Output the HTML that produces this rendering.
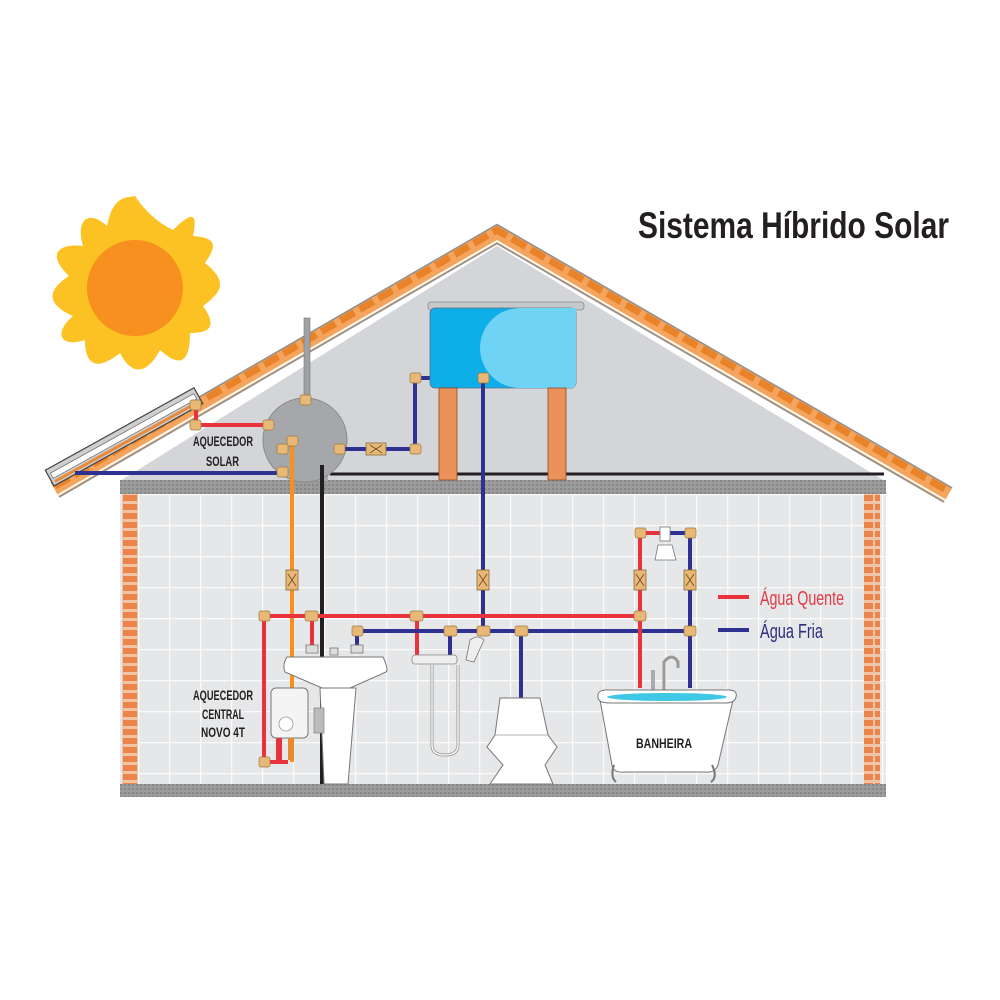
<!DOCTYPE html>
<html><head><meta charset="utf-8"><style>
html,body{margin:0;padding:0;background:#fff;}
svg{display:block;}
text{font-family:"Liberation Sans Narrow","Liberation Sans",sans-serif;}
</style></head><body>
<svg width="1000" height="1000" viewBox="0 0 1000 1000" xmlns="http://www.w3.org/2000/svg">
<defs>
<pattern id="tile" width="31" height="31" patternUnits="userSpaceOnUse" x="138" y="494">
<rect width="31" height="31" fill="#e6e7e9"/>
<path d="M0 0.5H31M0.5 0V31" stroke="#fafafa" stroke-width="1.5"/>
</pattern>
<pattern id="brick" width="16" height="9" patternUnits="userSpaceOnUse" x="122" y="494">
<rect width="16" height="9" fill="#f1c4a5"/>
<rect x="1" y="1" width="14" height="6" fill="#e9844a"/>
</pattern>
<pattern id="conc" width="4" height="4" patternUnits="userSpaceOnUse">
<rect width="4" height="4" fill="#9b9b9b"/>
<rect width="2" height="2" fill="#878787"/>
</pattern>
</defs>

<!-- title -->
<text x="638" y="238" font-size="37" font-weight="bold" fill="#231f20" textLength="311" lengthAdjust="spacingAndGlyphs">Sistema Híbrido Solar</text>

<!-- sun -->
<g transform="translate(135,288)">
<g fill="#fcc223">
<path d="M0,-92 C15,-70 30,-62 38,-58 C60,-80 62,-72 58,-52 C85,-50 80,-40 70,-25 C95,-5 85,5 68,18 C85,42 70,45 55,45 C55,75 45,80 25,62 C10,90 -5,85 -15,65 C-40,85 -50,75 -50,52 C-75,60 -82,45 -62,28 C-92,15 -85,0 -66,-12 C-90,-35 -75,-45 -52,-42 C-60,-70 -45,-78 -28,-62 C-22,-92 -10,-90 0,-92Z"/>
</g>
<circle r="48" fill="#f7901e"/>
</g>

<!-- gable -->
<polygon points="120,481 497,246 885,481" fill="#d4d5d8"/>
<!-- roof -->
<polyline points="55,490 497,234 948,495" fill="none" stroke="#8f8f8f" stroke-width="18" stroke-linejoin="miter"/>
<polyline points="55,490 497,234 948,495" fill="none" stroke="#f4a45c" stroke-width="15" stroke-linejoin="miter"/>
<polyline points="55,486 497,230 948,491" fill="none" stroke="#e8832a" stroke-width="7" stroke-dasharray="16 6"/>
<polyline points="58,495 497,241 945,500" fill="none" stroke="#fff" stroke-width="1.8"/>

<!-- black line along ceiling -->
<line x1="330" y1="474" x2="884" y2="474" stroke="#231f20" stroke-width="3"/>

<!-- interior -->
<rect x="120" y="494" width="766" height="291" fill="url(#tile)"/>
<rect x="122" y="494" width="16" height="290" fill="url(#brick)"/>
<rect x="864" y="494" width="16" height="290" fill="url(#brick)"/>
<rect x="120" y="480" width="766" height="14" fill="url(#conc)"/>
<rect x="120" y="784" width="766" height="13" fill="url(#conc)"/>

<!-- solar panel -->
<g transform="translate(54,486) rotate(-29)">
<rect x="0" y="-18" width="170" height="18" fill="#cfcfcf" stroke="#444" stroke-width="1.2"/>
<rect x="3" y="-13" width="164" height="6" fill="#fff" stroke="#777" stroke-width="0.8"/>
<rect x="3" y="-5" width="164" height="3" fill="#e98a3a"/>
</g>

<!-- labels -->
<g font-size="14" font-weight="bold" fill="#231f20">
<text x="193" y="446" textLength="60" lengthAdjust="spacingAndGlyphs">AQUECEDOR</text>
<text x="206" y="466" textLength="33" lengthAdjust="spacingAndGlyphs">SOLAR</text>
<text x="193" y="700" textLength="60" lengthAdjust="spacingAndGlyphs">AQUECEDOR</text>
<text x="202" y="719" textLength="42" lengthAdjust="spacingAndGlyphs">CENTRAL</text>
<text x="201" y="737" textLength="44" lengthAdjust="spacingAndGlyphs">NOVO 4T</text>
</g>

<!-- solar pipes -->
<polyline points="196,405 196,425 268,425" fill="none" stroke="#e8323c" stroke-width="4"/>
<polyline points="75,473 282,473 282,450" fill="none" stroke="#2e3192" stroke-width="4"/>

<!-- vent pipe -->
<rect x="304" y="318" width="6" height="90" fill="#a0a1a4" stroke="#777" stroke-width="0.6"/>
<!-- boiler -->
<rect x="290" y="470" width="38" height="11" fill="#a8a9ac"/>
<circle cx="305" cy="440" r="42" fill="#a6a7aa" stroke="#8a8a8a" stroke-width="1"/>

<!-- orange pipe -->
<line x1="292" y1="445" x2="292" y2="762" stroke="#f7901e" stroke-width="4"/>
<!-- black pipe -->
<line x1="322" y1="465" x2="322" y2="784" stroke="#231f20" stroke-width="4"/>

<!-- tank to boiler -->
<polyline points="340,449 415,449 415,378 430,378" fill="none" stroke="#2e3192" stroke-width="4"/>

<!-- water tank -->
<rect x="428" y="302" width="156" height="8" rx="3" fill="#c7c8ca" stroke="#888" stroke-width="0.8"/>
<rect x="430" y="308" width="146" height="80" rx="5" fill="#0eaee8" stroke="#5a6e80" stroke-width="0.8"/>
<path d="M520,308 L576,308 L576,383 Q576,388 571,388 L520,388 A40,40 0 0 1 520,308Z" fill="#6fd3f6"/>
<!-- legs -->
<rect x="439" y="388" width="18" height="92" fill="#e9925a" stroke="#8a4a2a" stroke-width="0.8"/>
<rect x="548" y="388" width="18" height="92" fill="#e9925a" stroke="#8a4a2a" stroke-width="0.8"/>

<!-- main cold down -->
<line x1="483" y1="378" x2="483" y2="633" stroke="#2e3192" stroke-width="4"/>

<!-- hot line -->
<polyline points="264,762 264,616 640,616" fill="none" stroke="#e8323c" stroke-width="4"/>
<line x1="312" y1="616" x2="312" y2="648" stroke="#e8323c" stroke-width="4"/>
<line x1="417" y1="616" x2="417" y2="655" stroke="#e8323c" stroke-width="4"/>
<polyline points="264,762 288,762" fill="none" stroke="#e8323c" stroke-width="4"/>
<!-- cold line -->
<polyline points="357,648 357,631 690,631" fill="none" stroke="#2e3192" stroke-width="4"/>
<line x1="450" y1="631" x2="450" y2="655" stroke="#2e3192" stroke-width="4"/>
<line x1="521" y1="631" x2="521" y2="700" stroke="#2e3192" stroke-width="4"/>
<!-- shower risers -->
<polyline points="640,688 640,533 665,533" fill="none" stroke="#e8323c" stroke-width="4"/>
<polyline points="690,688 690,533 665,533" fill="none" stroke="#2e3192" stroke-width="4"/>

<!-- fittings -->
<g fill="#e8b877" stroke="#9a7a40" stroke-width="0.7">
<rect x="190" y="400" width="11" height="10" rx="2"/>
<rect x="190" y="420" width="11" height="10" rx="2"/>
<rect x="263" y="420" width="11" height="10" rx="2"/>
<rect x="277" y="467" width="11" height="10" rx="2"/>
<rect x="277" y="444" width="11" height="10" rx="2"/>
<rect x="287" y="436" width="11" height="10" rx="2"/>
<rect x="300" y="395" width="11" height="10" rx="2"/>
<rect x="334" y="444" width="11" height="10" rx="2"/>
<rect x="410" y="444" width="11" height="10" rx="2"/>
<rect x="410" y="373" width="11" height="10" rx="2"/>
<rect x="478" y="373" width="11" height="10" rx="2"/>
<rect x="259" y="611" width="11" height="10" rx="2"/>
<rect x="305" y="611" width="13" height="10" rx="2"/>
<rect x="410" y="611" width="13" height="10" rx="2"/>
<rect x="352" y="626" width="11" height="10" rx="2"/>
<rect x="444" y="626" width="13" height="10" rx="2"/>
<rect x="477" y="626" width="13" height="10" rx="2"/>
<rect x="515" y="626" width="13" height="10" rx="2"/>
<rect x="634" y="611" width="12" height="10" rx="2"/>
<rect x="684" y="626" width="12" height="10" rx="2"/>
<rect x="635" y="528" width="11" height="10" rx="2"/>
<rect x="685" y="528" width="11" height="10" rx="2"/>
<rect x="259" y="757" width="11" height="10" rx="2"/>
</g>
<!-- valves -->
<g fill="#e8b877" stroke="#8a6a30" stroke-width="0.8">
<rect x="366" y="443" width="20" height="12"/>
<rect x="286" y="570" width="12" height="20"/>
<rect x="477" y="570" width="12" height="20"/>
<rect x="634" y="570" width="12" height="20"/>
<rect x="684" y="570" width="12" height="20"/>
</g>
<g stroke="#6a4a20" stroke-width="0.8">
<path d="M370,445 l12,8 M382,445 l-12,8"/>
<path d="M288,574 l8,12 M296,574 l-8,12"/>
<path d="M479,574 l8,12 M487,574 l-8,12"/>
<path d="M636,574 l8,12 M644,574 l-8,12"/>
<path d="M686,574 l8,12 M694,574 l-8,12"/>
</g>

<!-- shower head -->
<rect x="660" y="527" width="10" height="14" fill="#fff" stroke="#777" stroke-width="0.8"/>
<path d="M655,560 L658,545 L672,545 L676,560Z" fill="#fff" stroke="#777" stroke-width="0.8"/>

<!-- legend -->
<line x1="718" y1="597" x2="749" y2="597" stroke="#e8323c" stroke-width="4"/>
<line x1="718" y1="630" x2="749" y2="630" stroke="#2e3192" stroke-width="4"/>
<text x="760" y="605" font-size="20" fill="#e03a45" textLength="84" lengthAdjust="spacingAndGlyphs">Água Quente</text>
<text x="760" y="638" font-size="20" fill="#2b2f7a" textLength="63" lengthAdjust="spacingAndGlyphs">Água Fria</text>

<!-- sink -->
<path d="M320,688 L356,688 L348,784 L324,784Z" fill="#fff" stroke="#777" stroke-width="1"/>
<path d="M287,657 L383,657 Q389,670 386,672 L350,688 L322,688 L285,672 Q282,665 287,657Z" fill="#fff" stroke="#777" stroke-width="1"/>
<g fill="#ddd" stroke="#777" stroke-width="0.8">
<rect x="306" y="645" width="12" height="8"/><rect x="351" y="645" width="12" height="8"/><rect x="330" y="648" width="8" height="7"/>
</g>
<rect x="314" y="708" width="10" height="25" fill="#bbb" stroke="#777" stroke-width="0.6"/>

<!-- heater -->
<rect x="271" y="688" width="37" height="50" rx="5" fill="#f4f4f4" stroke="#777" stroke-width="1"/>
<circle cx="286" cy="724" r="7" fill="#fff" stroke="#999" stroke-width="0.8"/>
<rect x="276" y="738" width="6" height="22" fill="#e8323c"/>
<rect x="288" y="738" width="6" height="22" fill="#e98a2e"/>

<!-- mixer + hose -->
<rect x="412" y="655" width="45" height="9" rx="3" fill="#eee" stroke="#888" stroke-width="0.8"/>
<path d="M432,664 L432,745 Q432,755 445,755 Q458,755 458,745 L458,665" fill="none" stroke="#999" stroke-width="3"/>
<path d="M432,664 L432,745 Q432,755 445,755 Q458,755 458,745 L458,665" fill="none" stroke="#fff" stroke-width="1.3"/>
<path d="M466,660 L470,640 Q478,634 484,640 L474,662Z" fill="#eee" stroke="#777" stroke-width="0.8"/>

<!-- toilet -->
<path d="M500,698 L540,698 L548,735 L557,747 L545,765 L553,784 L490,784 L503,765 L487,747 L495,735Z" fill="#fff" stroke="#777" stroke-width="1"/>
<line x1="495" y1="735" x2="548" y2="735" stroke="#999" stroke-width="0.8"/>

<!-- bathtub -->
<rect x="651" y="670" width="4" height="20" fill="#aaa"/>
<path d="M664,690 L664,662 Q672,652 678,662 L678,668" fill="none" stroke="#999" stroke-width="3"/>
<path d="M600,700 L733,700 L718,765 Q715,773 705,772 L625,772 Q613,773 612,765Z" fill="#fff" stroke="#777" stroke-width="1"/>
<path d="M598,697 Q597,689 610,690 L725,690 Q738,689 736,697 Q735,703 725,703 L610,703 Q598,703 598,697Z" fill="#fff" stroke="#777" stroke-width="1"/>
<ellipse cx="667" cy="697" rx="60" ry="4" fill="#3fc7e6"/>
<path d="M614,765 q-4,12 2,17 M712,765 q6,12 -1,17" fill="none" stroke="#777" stroke-width="2"/>
<text x="636" y="748" font-size="14" font-weight="bold" fill="#231f20" textLength="56" lengthAdjust="spacingAndGlyphs">BANHEIRA</text>
</svg>
</body></html>
